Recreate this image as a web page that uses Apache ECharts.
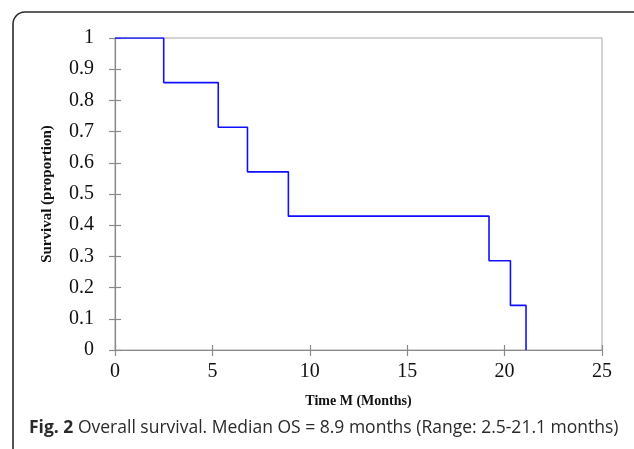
<!DOCTYPE html>
<html>
<head>
<meta charset="utf-8">
<script src="https://cdn.jsdelivr.net/npm/echarts@6/dist/echarts.min.js"></script>
<style>
  html, body { margin: 0; padding: 0; background: #fff; }
  #chart { width: 634px; height: 449px; }
</style>
</head>
<body>
<div id="chart"></div>
<script>
// survival curve
var months = [0, 2.5, 5.3, 6.8, 8.9, 19.2, 20.3, 21.1]
var survival = [1, 0.857, 0.714, 0.571, 0.429, 0.286, 0.143, 0]
var xTicks = [0, 5, 10, 15, 20, 25]

var chart = echarts.init(document.getElementById('chart'))

var serif = '"Liberation Serif", "DejaVu Serif", serif'
var axisGray = '#8a8a8a'

var points = months.map(function (m, i) {
    return [m, survival[i]]
})

var option = {
    animation: false,
    grid: {
        left: 115, right: 32, top: 38, bottom: 99,
        show: true,
        borderColor: '#a8a8a8',
        borderWidth: 1
    },
    xAxis: [{
        type: 'value', min: xTicks[0], max: xTicks[xTicks.length - 1], interval: 5,
        axisLine: { show: true, lineStyle: { color: axisGray, width: 1.2 } },
        axisTick: { show: true, length: 6, lineStyle: { color: axisGray, width: 1.2 } },
        axisLabel: { color: '#111', fontFamily: serif, fontSize: 20, margin: 12 },
        splitLine: { show: false },
        name: 'Time M (Months)',
        nameLocation: 'middle',
        nameGap: 44,
        nameTextStyle: { color: '#111', fontFamily: serif, fontSize: 14, fontWeight: 'bold' }
    }, {
        type: 'value', min: xTicks[0], max: xTicks[xTicks.length - 1], interval: 5, position: 'bottom',
        axisLine: { show: false },
        axisTick: { show: true, inside: true, length: 5, lineStyle: { color: axisGray, width: 1.2 } },
        axisLabel: { show: false },
        splitLine: { show: false }
    }],
    yAxis: [{
        type: 'value', min: 0, max: 1, interval: 0.1,
        axisLine: { show: true, lineStyle: { color: axisGray, width: 1.2 } },
        axisTick: { show: true, length: 6, lineStyle: { color: axisGray, width: 1.2 } },
        axisLabel: { color: '#111', fontFamily: serif, fontSize: 20, margin: 21 },
        splitLine: { show: false },
        name: 'Survival (proportion)',
        nameLocation: 'middle',
        nameGap: 60,
        nameTextStyle: { color: '#111', fontFamily: serif, fontSize: 15, fontWeight: 'bold' }
    }, {
        type: 'value', min: 0, max: 1, interval: 0.1, position: 'left',
        axisLine: { show: false },
        axisTick: { show: true, inside: true, length: 6, lineStyle: { color: axisGray, width: 1.2 } },
        axisLabel: { show: false },
        splitLine: { show: false }
    }],
    series: [{
        type: 'line',
        step: 'end',
        data: points,
        showSymbol: false,
        symbol: 'none',
        lineStyle: { color: '#1010ff', width: 1.6 },
        z: 5
    }],
    graphic: [{
        type: 'rect',
        shape: { x: 13, y: 12, width: 640, height: 470, r: 12 },
        style: { fill: 'none', stroke: '#2a2a2a', lineWidth: 1.6 },
        silent: true
    }, {
        type: 'text',
        left: 29,
        top: 419,
        style: {
            text: '{b|Fig. 2} Overall survival. Median OS = 8.9 months (Range: 2.5-21.1 months)',
            font: '17.5px "Open Sans", sans-serif',
            fill: '#2a2a2a',
            rich: {
                b: { fontFamily: '"Open Sans", sans-serif', fontSize: 17.5, fontWeight: 'bold', fill: '#2a2a2a' }
            }
        }
    }]
}

chart.setOption(option)
</script>
</body>
</html>
